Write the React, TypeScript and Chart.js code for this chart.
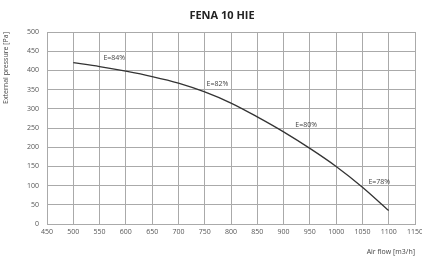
import React, { useEffect, useRef } from "react";
import { Chart, registerables } from "chart.js";

Chart.register(...registerables);

const airFlow = [500, 550, 600, 650, 700, 750, 800, 850, 900, 950, 1000, 1050, 1100];
const pressure = [420, 410, 398, 384, 367, 344, 315, 279, 240, 197, 150, 96, 35];

const effLabels = ["E=84%", "E=82%", "E=80%", "E=78%"];
const effX = [578, 774, 943, 1082];
const effY = [431, 365, 258, 109];

const titleText = "FENA 10 HIE";
const xTitle = "Air flow [m3/h]";
const yTitle = "External pressure [Pa]";

const FONT = "'Open Sans', 'DejaVu Sans', sans-serif";

export default function App() {
  const ref = useRef<HTMLCanvasElement | null>(null);

  useEffect(() => {
    if (!ref.current) return;
    const labelPlugin = {
      id: "effLabels",
      afterDatasetsDraw(chart: any) {
        const { ctx, scales } = chart;
        ctx.save();
        ctx.font = `7px ${FONT}`;
        ctx.fillStyle = "#444";
        ctx.textAlign = "center";
        ctx.textBaseline = "middle";
        effLabels.forEach((t, i) => {
          ctx.fillText(t, scales.x.getPixelForValue(effX[i]), scales.y.getPixelForValue(effY[i]));
        });
        ctx.restore();
      },
      afterDraw(chart: any) {
        const { ctx } = chart;
        ctx.save();
        ctx.font = `bold 11px ${FONT}`;
        ctx.fillStyle = "#222";
        ctx.textAlign = "center";
        ctx.textBaseline = "middle";
        ctx.fillText(titleText, 222, 16);
        ctx.restore();
      },
    };
    const chart = new Chart(ref.current, {
      type: "line",
      data: {
        datasets: [
          {
            data: airFlow.map((x, i) => ({ x, y: pressure[i] })),
            borderColor: "#333",
            borderWidth: 1.3,
            pointRadius: 0,
            cubicInterpolationMode: "monotone",
            fill: false,
          },
        ],
      },
      options: {
        animation: false,
        responsive: false,
        maintainAspectRatio: false,
        layout: { padding: { top: 32, right: 7, left: 0, bottom: 0 } },
        plugins: { legend: { display: false }, tooltip: { enabled: false }, title: { display: false } },
        scales: {
          x: {
            type: "linear",
            min: 450,
            max: 1150,
            ticks: { stepSize: 50, color: "#555", font: { size: 7, family: FONT }, padding: 4, maxRotation: 0, callback: (v: any) => String(v) },
            grid: { color: "#aaa", lineWidth: 1, drawTicks: false },
            border: { color: "#aaa" },
            title: { display: true, text: xTitle, align: "end", color: "#444", font: { size: 7, family: FONT }, padding: { top: 2, bottom: 0 } },
            afterFit: (s: any) => { s.height = 32; s.paddingRight = 0; s.paddingLeft = 0; },
          },
          y: {
            min: 0,
            max: 500,
            ticks: { stepSize: 50, color: "#555", font: { size: 7, family: FONT }, padding: 8, callback: (v: any) => String(v) },
            grid: { color: "#aaa", lineWidth: 1, drawTicks: false },
            border: { color: "#aaa" },
            title: { display: true, text: yTitle, align: "end", color: "#444", font: { size: 7, family: FONT }, padding: 2 },
            afterFit: (s: any) => { s.width = 47; s.paddingTop = 0; s.paddingBottom = 0; },
          },
        },
      },
      plugins: [labelPlugin],
    } as any);
    return () => chart.destroy();
  }, []);

  return (
    <div style={{ position: "fixed", left: 0, top: 0, width: 422, height: 256, background: "#fff" }}>
      <canvas ref={ref} width={422} height={256} style={{ width: 422, height: 256 }} />
    </div>
  );
}
